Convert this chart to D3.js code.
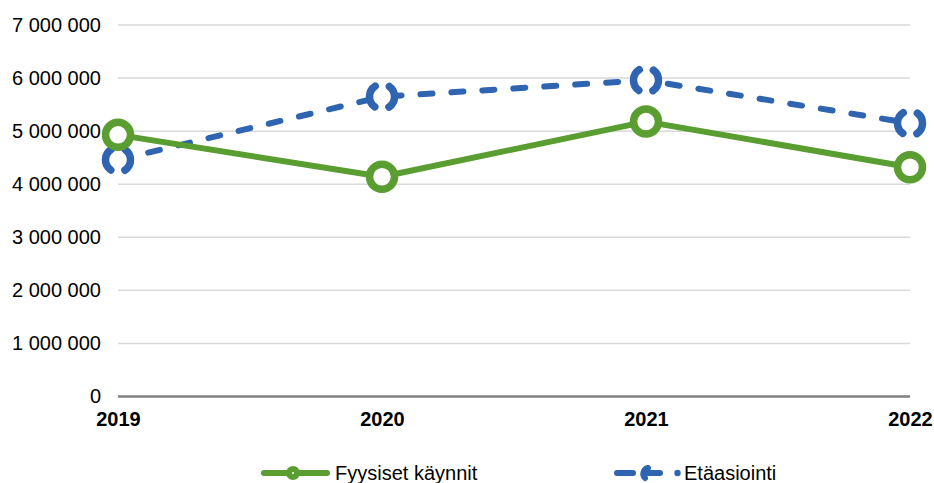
<!DOCTYPE html>
<html>
<head>
<meta charset="utf-8">
<script src="https://cdn.jsdelivr.net/npm/d3@7"></script>
<style>
  body { margin: 0; background: #fff; }
  svg text { font-family: "Liberation Sans", Arial, sans-serif; fill: #000; }
</style>
</head>
<body>
<svg id="chart" width="934" height="483"></svg>
<script>
var years = ['2019', '2020', '2021', '2022'];
var fyysiset = [4930000, 4140000, 5180000, 4320000];
var etaasiointi = [4460000, 5650000, 5960000, 5150000];
var yTicks = [0, 1000000, 2000000, 3000000, 4000000, 5000000, 6000000, 7000000];

var series = [
  { name: 'Fyysiset käynnit', values: fyysiset, color: '#5a9e32', dash: null },
  { name: 'Etäasiointi', values: etaasiointi, color: '#2e64b0', dash: '12,19' }
];

var svg = d3.select('#chart');
var plotLeft = 118, plotRight = 910, plotTop = 25, plotBottom = 396.5;
var fontSize = 20;
var markerR = 12.5;

var x = d3.scalePoint().domain(years).range([plotLeft, plotRight]);
var y = d3.scaleLinear().domain([0, 7000000]).range([plotBottom, plotTop]);

function fmt(v) {
  return d3.format(',')(v).replace(/,/g, ' ');
}

// gridlines
svg.append('g').selectAll('line').data(yTicks.slice(1)).enter().append('line')
  .attr('x1', plotLeft).attr('x2', plotRight)
  .attr('y1', function(d) { return y(d); }).attr('y2', function(d) { return y(d); })
  .attr('stroke', '#d9d9d9').attr('stroke-width', 1.5);

// y labels
var yAxis = d3.axisLeft(y).tickValues(yTicks).tickFormat(fmt).tickSize(0).tickPadding(17);
var yg = svg.append('g').attr('transform', 'translate(' + plotLeft + ',0)').call(yAxis);
yg.select('.domain').remove();
yg.attr('font-size', fontSize).attr('font-family', '"Liberation Sans", Arial, sans-serif');
yg.selectAll('text').attr('fill', '#1a1a1a');

// baseline
svg.append('line').attr('x1', plotLeft).attr('x2', plotRight).attr('y1', plotBottom).attr('y2', plotBottom)
  .attr('stroke', '#7f7f7f').attr('stroke-width', 2.5);

// x labels
var xAxis = d3.axisBottom(x).tickSize(0).tickPadding(15);
var xg = svg.append('g').attr('transform', 'translate(0,' + plotBottom + ')').call(xAxis);
xg.select('.domain').remove();
xg.attr('font-size', fontSize).attr('font-family', '"Liberation Sans", Arial, sans-serif').attr('font-weight', 'bold');
xg.selectAll('text').attr('fill', '#000');

var line = d3.line().x(function(d, i) { return x(years[i]); }).y(function(d) { return y(d); });

// dashed marker: arcs on left and right, gaps at top and bottom
var halfCirc = Math.PI * markerR;
var markerGap = 15;
var markerDash = halfCirc - markerGap;

// blue first, green drawn on top
series.slice().reverse().forEach(function(s) {
  var g = svg.append('g');
  g.append('path').datum(s.values).attr('d', line)
    .attr('fill', 'none').attr('stroke', s.color).attr('stroke-width', 6)
    .attr('stroke-linecap', 'round').attr('stroke-linejoin', 'round')
    .attr('stroke-dasharray', s.dash);
  g.selectAll('circle').data(s.values).enter().append('circle')
    .attr('cx', function(d, i) { return x(years[i]); })
    .attr('cy', function(d) { return y(d); })
    .attr('r', markerR)
    .attr('fill', '#fff').attr('stroke', s.color).attr('stroke-width', 7.5)
    .attr('stroke-dasharray', s.dash ? markerDash + ',' + markerGap : null)
    .attr('stroke-dashoffset', s.dash ? markerDash / 2 : null)
    .attr('stroke-linecap', 'round');
});

// legend
var ly = 473;
var lg = svg.append('g');
var green = series[0], blue = series[1];
lg.append('line').attr('x1', 264).attr('x2', 327).attr('y1', ly).attr('y2', ly)
  .attr('stroke', green.color).attr('stroke-width', 6).attr('stroke-linecap', 'round');
lg.append('circle').attr('cx', 293).attr('cy', ly).attr('r', 4)
  .attr('fill', '#fff').attr('stroke', green.color).attr('stroke-width', 6);
lg.append('text').attr('x', 335).attr('y', ly + 6.5).attr('font-size', fontSize).text(green.name);

lg.append('line').attr('x1', 617).attr('x2', 633).attr('y1', ly).attr('y2', ly)
  .attr('stroke', blue.color).attr('stroke-width', 6).attr('stroke-linecap', 'round');
lg.append('path').attr('d', 'M645,' + (ly + 5) + ' A6,6 0 0 1 648,' + (ly - 5) + ' M648,' + ly + ' L660,' + ly)
  .attr('fill', 'none').attr('stroke', blue.color).attr('stroke-width', 6).attr('stroke-linecap', 'round');
lg.append('circle').attr('cx', 677.5).attr('cy', ly).attr('r', 3.2).attr('fill', blue.color);
lg.append('text').attr('x', 684).attr('y', ly + 6.5).attr('font-size', fontSize).text(blue.name);
</script>
</body>
</html>
